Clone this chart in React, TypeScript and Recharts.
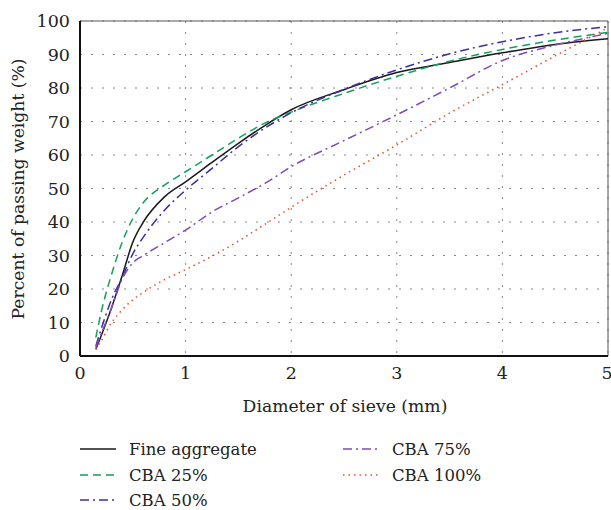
import React from 'react';
import { LineChart, Line, XAxis, YAxis, CartesianGrid, ReferenceLine } from 'recharts';

// sieve diameters (mm) shared by all curves
const sieve = [0.15, 0.2, 0.3, 0.4, 0.5, 0.6, 0.8, 1.0, 1.25, 1.5, 1.75, 2.0, 2.5, 3.0, 3.5, 4.0, 4.5, 5.0];

const fineAggregate = [2, 6, 14.5, 24, 34, 40, 47.5, 52, 57.8, 63.5, 68.8, 73.5, 79.5, 84.6, 87.6, 90.5, 93, 94.7];
const cba25 = [5.5, 13, 24.5, 34, 41, 45.8, 51, 55, 60, 65, 69.5, 72.8, 78.4, 83.5, 88, 91.5, 94.3, 96.6];
const cba50 = [3, 8, 17, 23.5, 30.5, 35.5, 43.5, 49.5, 56, 62.5, 68, 72.6, 79.6, 85.4, 90.2, 93.8, 96.5, 98.3];
const cba75 = [2.5, 6.5, 14.5, 23, 27.8, 30, 33.8, 37.6, 43, 47.2, 51.5, 56.5, 64.3, 72, 80, 88.2, 92.8, 96.3];
const cba100 = [2, 4.5, 10, 13.8, 16.8, 19, 22.8, 25.8, 29.8, 34.3, 39.3, 44.4, 54, 63, 72.5, 81, 89.6, 98];

const xTicks = [0, 1, 2, 3, 4, 5];
const yTicks = [0, 10, 20, 30, 40, 50, 60, 70, 80, 90, 100];

const series = [
  { key: 'fine', name: 'Fine aggregate', values: fineAggregate, color: '#1a1a1a', dash: undefined as string | undefined },
  { key: 'c25', name: 'CBA 25%', values: cba25, color: '#12a05a', dash: '8 5' },
  { key: 'c50', name: 'CBA 50%', values: cba50, color: '#3c2fa2', dash: '9 4 2 4' },
  { key: 'c75', name: 'CBA 75%', values: cba75, color: '#7c4cba', dash: '9 4 2 4' },
  { key: 'c100', name: 'CBA 100%', values: cba100, color: '#f04a2a', dash: '1.5 4' },
];

const data = sieve.map((d, i) => {
  const row: Record<string, number> = { d };
  series.forEach(s => { row[s.key] = s.values[i]; });
  return row;
});

const FONT = "'DejaVu Serif', serif";
const txt = { fontFamily: FONT };

const XTick = (props: any) => (
  <text x={props.x} y={props.y + 23} textAnchor="middle" style={txt} fontSize={17.5} fill="#222">
    {props.payload.value}
  </text>
);

const YTick = (props: any) => (
  <text x={props.x - 10} y={props.y + 6} textAnchor="end" style={txt} fontSize={17.5} fill="#222">
    {props.payload.value}
  </text>
);

const legendPos = [
  { x: 80, y: 449 }, { x: 80, y: 475 }, { x: 80, y: 500 },
  { x: 343, y: 449 }, { x: 343, y: 475 },
];

export default function App() {
  return (
    <div style={{ position: 'absolute', left: 0, top: 0, width: 611, height: 510 }}>
      <LineChart width={611} height={510} data={data} margin={{ top: 21, right: 3, bottom: 124, left: 0 }}>
        <CartesianGrid stroke="#888" strokeDasharray="2 9" />
        <XAxis
          dataKey="d"
          type="number"
          domain={[0, 5]}
          ticks={xTicks}
          height={30}
          tickLine={false}
          tickSize={0}
          tickMargin={0}
          tick={XTick}
          axisLine={{ stroke: '#111', strokeWidth: 2 }}
        />
        <YAxis
          type="number"
          domain={[0, 100]}
          ticks={yTicks}
          width={80}
          tickLine={false}
          tickSize={0}
          tickMargin={0}
          tick={YTick}
          axisLine={{ stroke: '#111', strokeWidth: 2 }}
        />
        <ReferenceLine y={100} stroke="#555" strokeWidth={1} />
        <ReferenceLine x={5} stroke="#555" strokeWidth={1} />
        {series.map(s => (
          <Line
            key={s.key}
            dataKey={s.key}
            type="monotone"
            stroke={s.color}
            strokeWidth={1.5}
            strokeDasharray={s.dash}
            dot={false}
            isAnimationActive={false}
          />
        ))}
      </LineChart>
      <svg width={611} height={510} style={{ position: 'absolute', left: 0, top: 0, pointerEvents: 'none' }}>
        <text x={345} y={412} textAnchor="middle" style={txt} fontSize={17.2} fill="#222">
          Diameter of sieve (mm)
        </text>
        <text transform="translate(24, 189) rotate(-90)" textAnchor="middle" style={txt} fontSize={17.2} fill="#222">
          Percent of passing weight (%)
        </text>
        {series.map((s, i) => (
          <g key={s.key}>
            <line
              x1={legendPos[i].x}
              x2={legendPos[i].x + 36}
              y1={legendPos[i].y}
              y2={legendPos[i].y}
              stroke={s.color}
              strokeWidth={1.5}
              strokeDasharray={s.dash}
            />
            <text x={legendPos[i].x + 49} y={legendPos[i].y + 6} style={txt} fontSize={16.5} fill="#222">
              {s.name}
            </text>
          </g>
        ))}
      </svg>
    </div>
  );
}
